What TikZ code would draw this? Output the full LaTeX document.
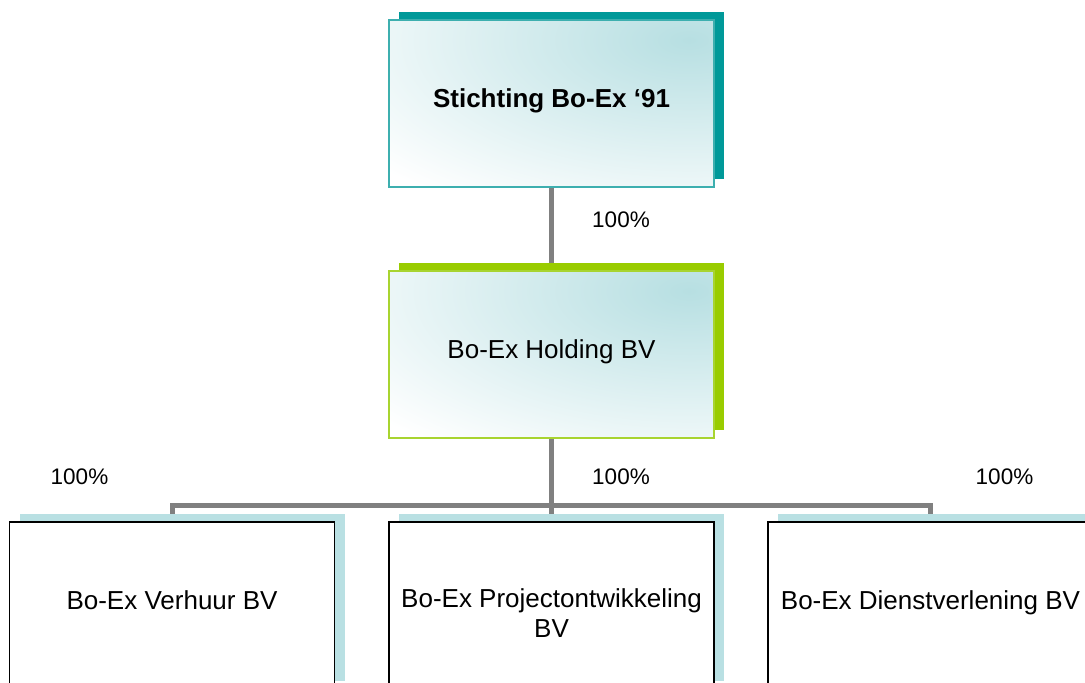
\documentclass[tikz,border=0pt]{standalone}
\usepackage{fontspec}
\setmainfont{Liberation Sans}
\usetikzlibrary{positioning,calc,shadows,backgrounds}
\definecolor{orgTeal}{HTML}{009999}
\definecolor{orgTealLine}{HTML}{3DAFAF}
\definecolor{orgGreen}{HTML}{99CC00}
\definecolor{orgGreenLine}{HTML}{A8D430}
\definecolor{orgIce}{HTML}{B9E0E3}
\definecolor{orgTint}{HTML}{B7DFE2}
\definecolor{orgLink}{HTML}{808080}
\tikzset{unit/.style={
    rectangle, minimum width=325pt, minimum height=167pt, inner sep=0pt,
    fill=white, line width=1.8pt, text height=19pt, text depth=12pt,
    font=\fontsize{26}{30}\selectfont
    },
  tinted/.style={
    path picture={
        \shade[inner color=orgTint,outer color=white]
            ($(path picture bounding box.north east)+(-25,20)$) ellipse (410pt and 195pt);
        }
    },
  backed/.style={drop shadow={shadow xshift=10pt,shadow yshift=8pt,opacity=1,fill=#1}},
  link/.style={draw=orgLink,line width=5pt},
  share/.style={font=\fontsize{22.5}{26}\selectfont}
}
\begin{document}
\begin{tikzpicture}[x=1pt,y=-1pt]
	\useasboundingbox (0,0) rectangle (1085,683);
	\node[unit,tinted,backed=orgTeal,draw=orgTealLine] (stichting) at (551.5,103.5) {\textbf{Stichting Bo-Ex ‘91}};
	\node[unit,tinted,backed=orgGreen,draw=orgGreenLine] (holding) at (551.5,354.5) {Bo-Ex Holding BV};
	\node[unit,backed=orgIce,draw=black] (verhuur) at (172,605.5) {Bo-Ex Verhuur BV};
	\node[unit,backed=orgIce,draw=black,align=center,text height=63pt,text depth=0pt] (project) at (551.5,605.5) {Bo-Ex Projectontwikkeling\\BV};
	\node[unit,backed=orgIce,draw=black] (dienst) at (930.5,605.5) {Bo-Ex Dienstverlening BV};
	\node[share] (shareHolding) at (621,220) {100\%};
	\node[share] (shareVerhuur) at (79.5,477) {100\%};
	\node[share] (shareProject) at (621,477) {100\%};
	\node[share] (shareDienst) at (1004.5,477) {100\%};
	\begin{scope}[on background layer]
		\coordinate (bus) at (551.5,505.5);
		\draw[link] (stichting) -- (holding);
		\draw[link] (holding) -- (bus);
		\draw[link] (verhuur.north) |- (bus) -| (dienst.north);
		\draw[link] (bus) -- (project.north);
	\end{scope}
\end{tikzpicture}
\end{document}
